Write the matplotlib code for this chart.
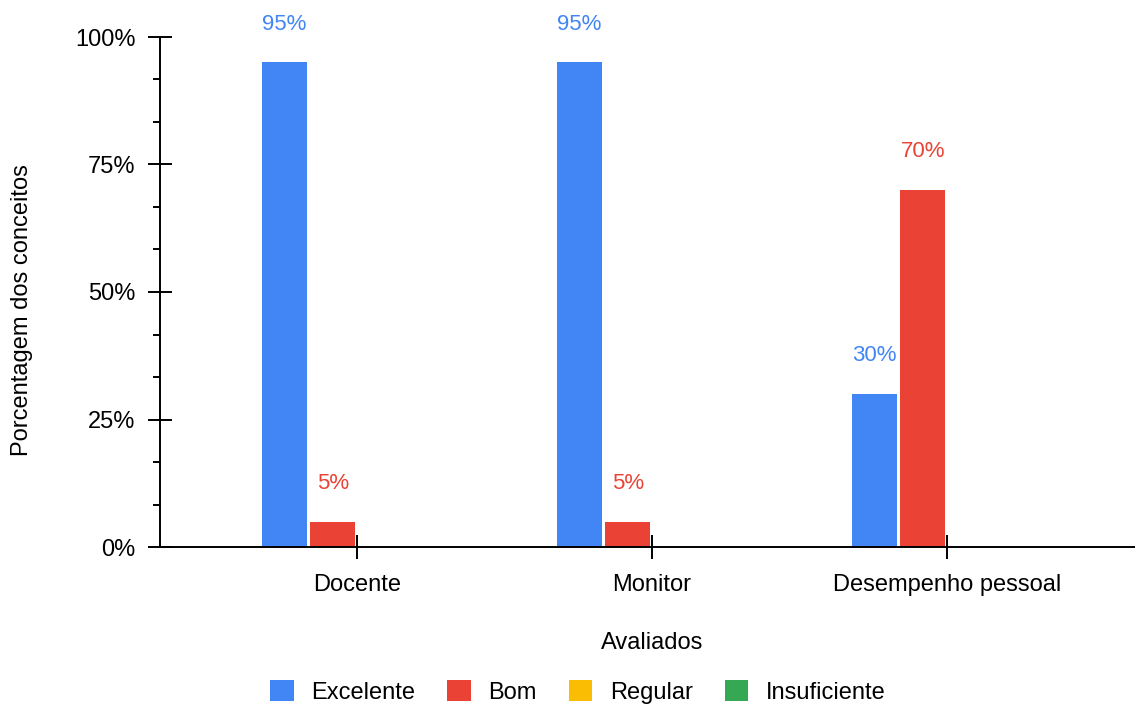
import numpy as np
import matplotlib.pyplot as plt
from matplotlib.patches import Patch
from matplotlib.ticker import FixedLocator, FuncFormatter

plt.rcParams['font.family'] = ['Liberation Sans', 'DejaVu Sans']

# dados
avaliados = ['Docente', 'Monitor', 'Desempenho pessoal']
conceitos = ['Excelente', 'Bom', 'Regular', 'Insuficiente']
excelente = [95, 95, 30]
bom = [5, 5, 70]
regular = [0, 0, 0]
insuficiente = [0, 0, 0]
cores = ['#4285F4', '#EA4335', '#FBBC04', '#34A853']

series = [excelente, bom, regular, insuficiente]

W, H = 1135, 704
fig = plt.figure(figsize=(W / 100, H / 100), dpi=100)
ax = fig.add_axes([160 / W, 1 - 547 / H, (W - 160) / W, (547 - 37) / H])

x = np.arange(len(avaliados))
passo = 0.1644
largura = 0.152
for i, (vals, cor) in enumerate(zip(series, cores)):
    pos = x + (i - 1.5) * passo
    ax.bar(pos, vals, width=largura, color=cor, label=conceitos[i], zorder=2)
    for p, v in zip(pos, vals):
        if v > 0:
            ax.annotate(f'{v}%', (p, v), xytext=(0, 27.5), textcoords='offset points',
                        ha='center', va='center', color=cor, fontsize=16)

ax.set_xlim(-0.668, 2.637)
ax.set_ylim(0, 100)

for s in ['top', 'right']:
    ax.spines[s].set_visible(False)
for s in ['left', 'bottom']:
    ax.spines[s].set_linewidth(1.4)
    ax.spines[s].set_color('black')

ax.set_xticks(x)
ax.set_xticklabels(avaliados, fontsize=17)
ax.set_yticks([0, 25, 50, 75, 100])
ax.yaxis.set_major_formatter(FuncFormatter(lambda v, _: f'{v:.0f}%'))
ax.yaxis.set_minor_locator(FixedLocator([k * 25 / 3 for k in range(13) if k % 3]))
ax.tick_params(axis='y', which='major', direction='inout', length=17, width=1.4,
               labelsize=17, pad=9)
ax.tick_params(axis='y', which='minor', direction='out', length=5, width=1.4)
ax.tick_params(axis='x', which='major', direction='inout', length=17, width=1.4,
               labelsize=17, pad=11)

fig.text(22 / W, 1 - 310 / H, 'Porcentagem dos conceitos', rotation=90,
         ha='center', va='center', fontsize=17)
fig.text(652 / W, 1 - 643 / H, 'Avaliados', ha='center', va='center', fontsize=17)

handles = [Patch(facecolor=c, edgecolor='none', label=l) for c, l in zip(cores, conceitos)]
fig.legend(handles=handles, ncol=4, loc='center', bbox_to_anchor=(578 / W, 1 - 692 / H),
           frameon=False, fontsize=17, handlelength=1.0, handleheight=1.0,
           handletextpad=0.75, columnspacing=1.35, borderpad=0)

fig.savefig('out.png', dpi=100)
